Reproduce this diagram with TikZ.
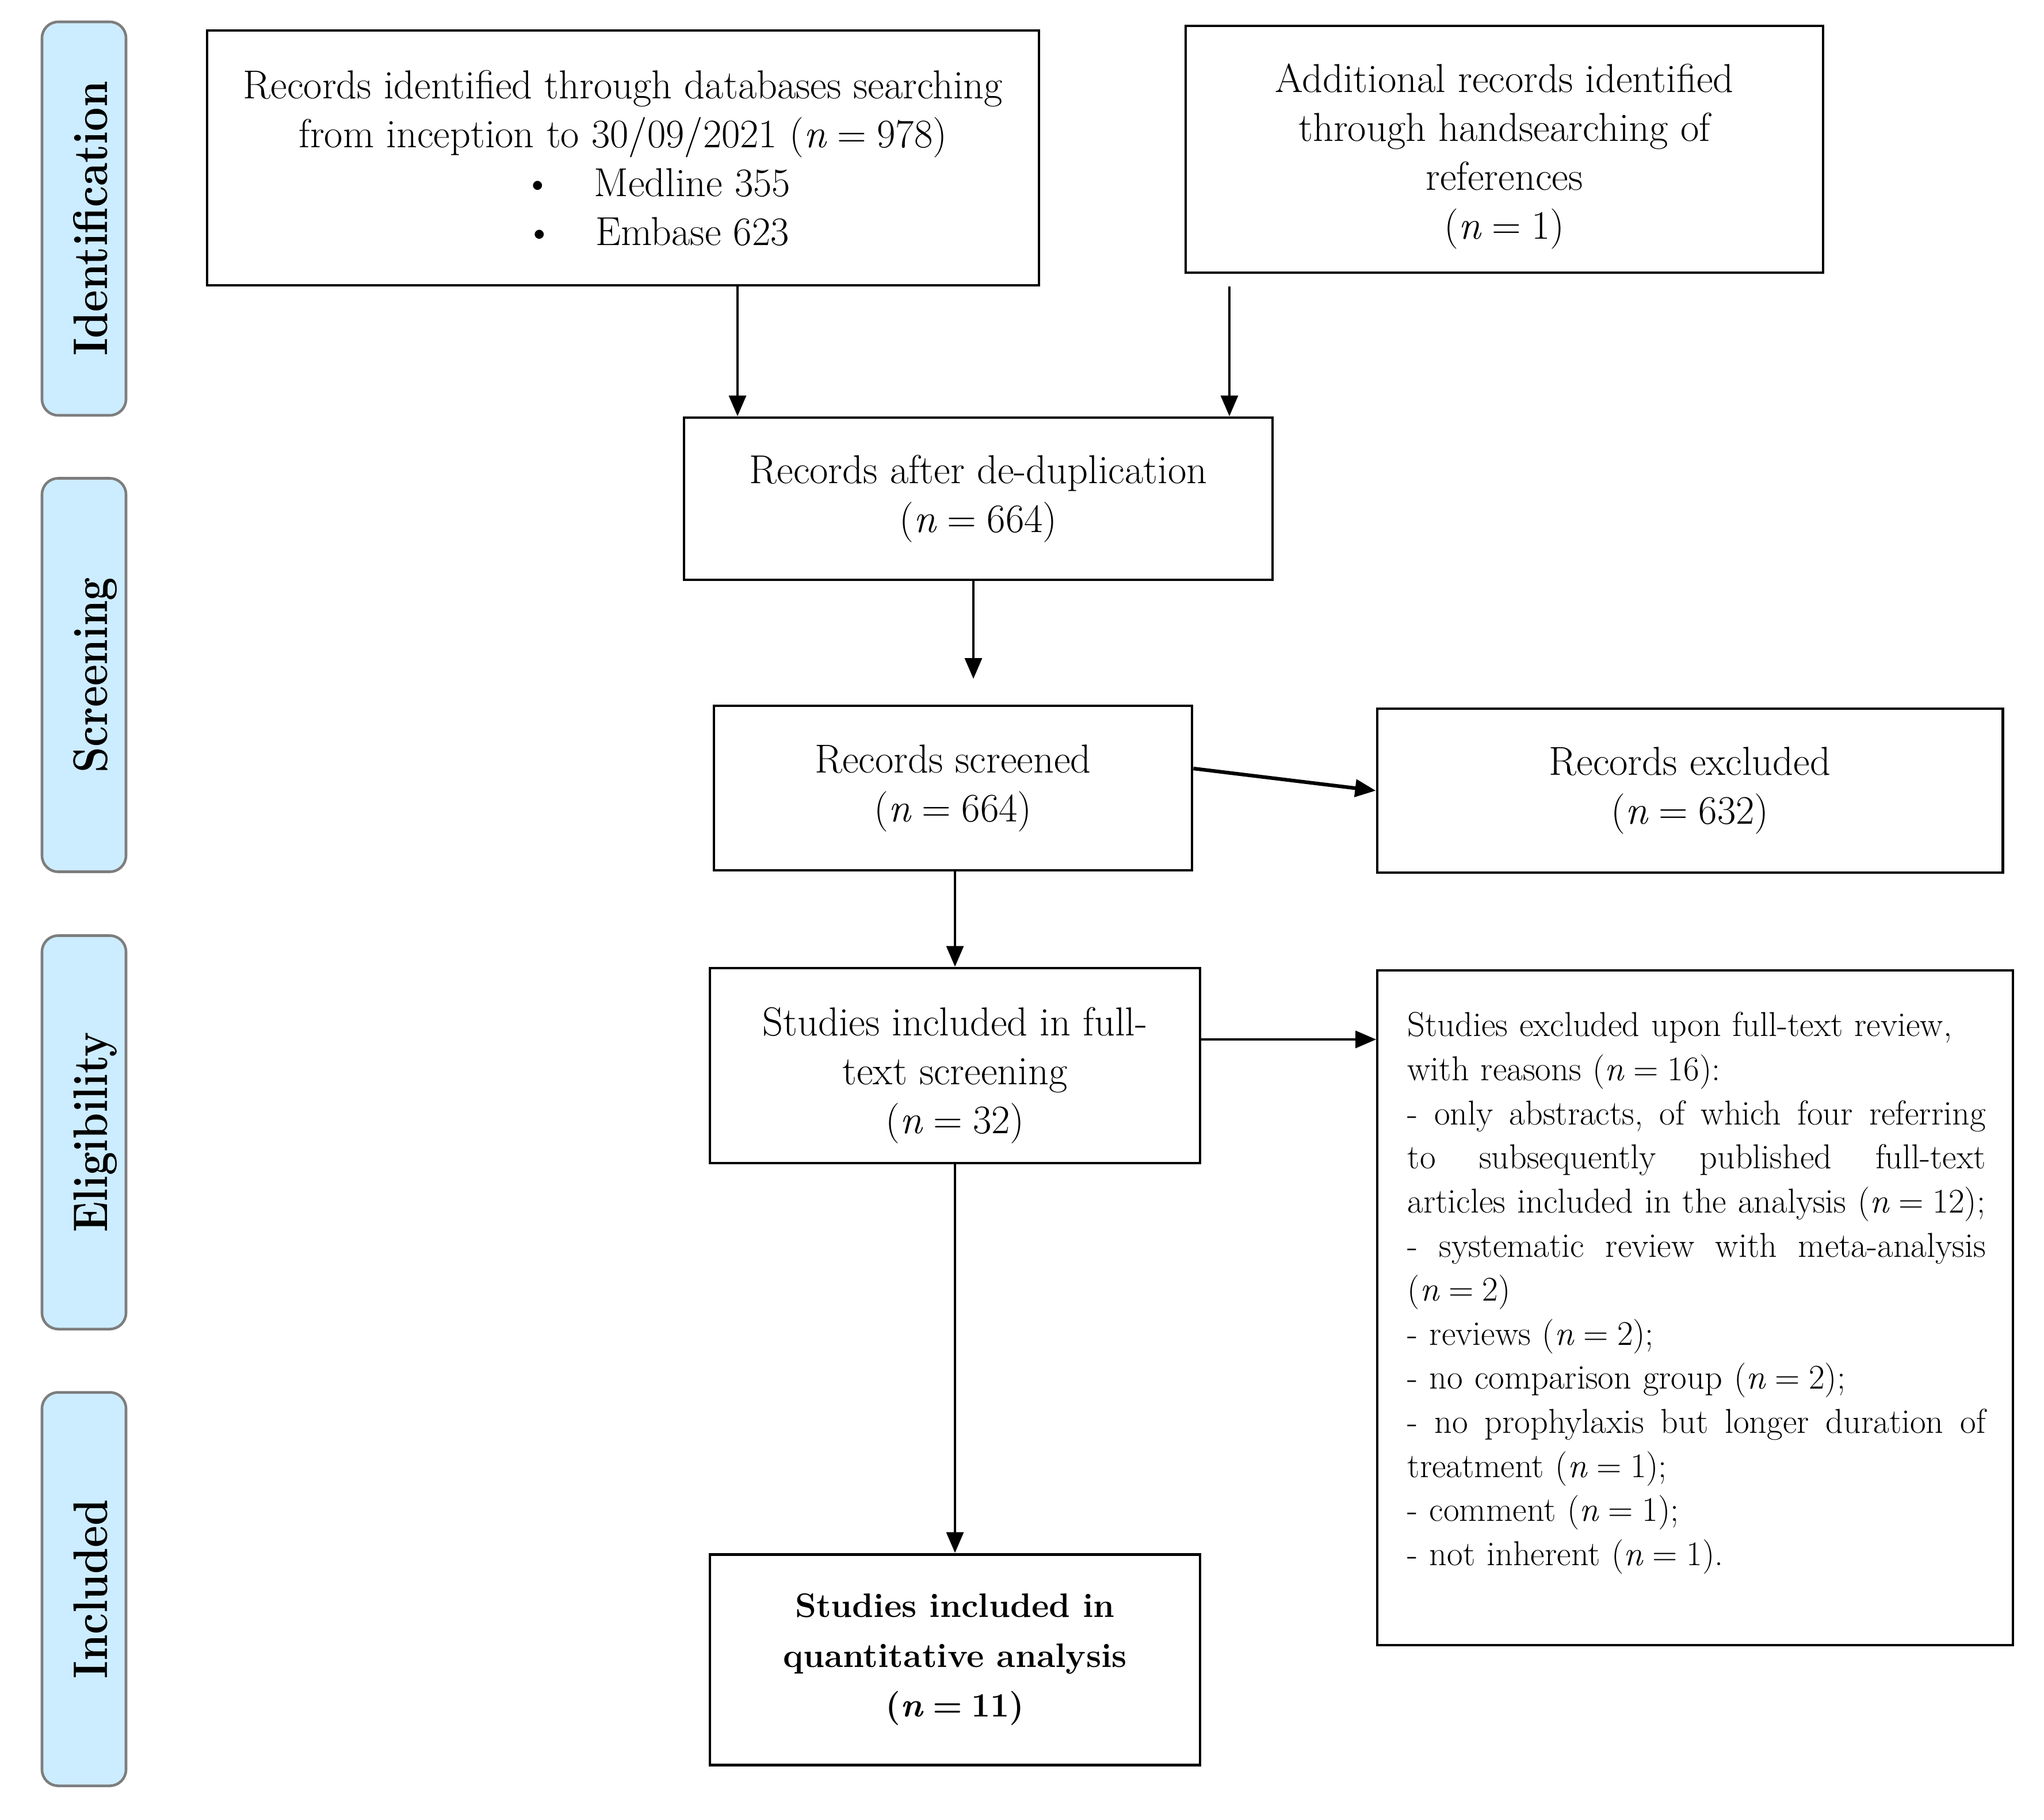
\documentclass[tikz,border=0pt]{standalone}
\usepackage{fontspec}
\usepackage{graphicx}
\usetikzlibrary{arrows.meta,calc}
\definecolor{phasefill}{RGB}{204,236,255}
\definecolor{phasedraw}{RGB}{125,125,125}
\newcommand\nnum[1]{(\textit{n}\hspace{0.26em}=\hspace{0.26em}#1)}
\newcommand\nnumb[1]{(\textbf{\textit{n}}\hspace{0.26em}=\hspace{0.26em}#1)}
\begin{document}
\begin{tikzpicture}[x=1cm,y=-1cm,
  box/.style={draw, line width=1.4pt, inner sep=0pt, align=center,
    font=\fontsize{20}{24.2}\selectfont},
  boxtext/.style={inner sep=0pt, align=center, font=\fontsize{20}{24.2}\selectfont},
  phase/.style={draw=phasedraw, fill=phasefill, line width=1.3pt,
    rounded corners=0.28cm, minimum width=1.46cm, minimum height=6.84cm, inner sep=0pt},
  phasetext/.style={rotate=90, anchor=base, inner sep=0pt,
    font=\fontsize{24}{24}\selectfont\bfseries},
  arr/.style={line width=1pt, -{Triangle[length=0.36cm,width=0.3cm]}},
  thickarr/.style={line width=1.8pt, -{Triangle[length=0.36cm,width=0.3cm]}},
]
\useasboundingbox (0,0) rectangle (35.53,31.63);

% phase labels
\node[phase] (p1) at (1.46,3.80) {};
\node[phasetext] (p1t) at (1.86,3.80) {\scalebox{0.87}[1]{Identification}};
\node[phase] (p2) at (1.46,11.735) {};
\node[phasetext] (p2t) at (1.86,11.735) {\scalebox{0.85}[1]{Screening}};
\node[phase] (p3) at (1.46,19.685) {};
\node[phasetext] (p3t) at (1.86,19.685) {\scalebox{0.86}[1]{Eligibility}};
\node[phase] (p4) at (1.46,27.625) {};
\node[phasetext] (p4t) at (1.86,27.625) {\scalebox{0.87}[1]{Included}};

% boxes
\node[box, minimum width=14.46cm, minimum height=4.43cm] (A) at (10.83,2.745)
  {Records identified through databases searching\\
   from inception to 30/09/2021 \nnum{978}\\
   \hspace*{1.18cm}\textbullet\hspace{0.72cm}Medline 355\\
   \hspace*{1.18cm}\textbullet\hspace{0.72cm}Embase 623};
\node[box, minimum width=11.08cm, minimum height=4.29cm] (B) at (26.15,2.595) {};
\node[boxtext] (Bt) at (26.15,2.72)
  {Additional records identified\\ through handsearching of\\ references\\ \nnum{1}};
\node[box, minimum width=10.23cm, minimum height=2.82cm] (C) at (17.005,8.67)
  {Records after de-duplication\\ \nnum{664}};
\node[box, minimum width=8.31cm, minimum height=2.86cm] (D) at (16.565,13.70)
  {Records screened\\ \nnum{664}};
\node[box, minimum width=10.87cm, minimum height=2.85cm] (E) at (29.375,13.745)
  {Records excluded\\ \nnum{632}};
\node[box, minimum width=8.52cm, minimum height=3.39cm] (F) at (16.60,18.525) {};
\node[boxtext] (Ft) at (16.60,18.70)
  {Studies included in full-\\ text screening\\ \nnum{32}};
\node[box, minimum width=11.05cm, minimum height=11.73cm, line width=1.1pt] (G) at (29.465,22.735) {};
\node[anchor=north west, inner sep=0pt, text width=10.3cm, align=left,
  font=\fontsize{17.1}{21.8}\selectfont] (Gt) at (24.46,17.59)
  {Studies excluded upon full-text review,\\
   with reasons \nnum{16}:\\
   \makebox[10.05cm][s]{-\hfill only\hfill abstracts,\hfill of\hfill which\hfill four\hfill referring}\\
   \makebox[10.05cm][s]{to\hfill subsequently\hfill published\hfill full-text}\\
   \mbox{articles included in the analysis \nnum{12};}\\
   \makebox[10.05cm][s]{-\hfill systematic\hfill review\hfill with\hfill meta-analysis}\\
   \nnum{2}\\
   - reviews \nnum{2};\\
   - no comparison group \nnum{2};\\
   \makebox[10.05cm][s]{-\hfill no\hfill prophylaxis\hfill but\hfill longer\hfill duration\hfill of}\\
   treatment \nnum{1};\\
   - comment \nnum{1};\\
   - not inherent \nnum{1}.};
\node[box, minimum width=8.52cm, minimum height=3.66cm, font=\fontsize{16.8}{24.6}\selectfont\bfseries] (H) at (16.60,28.85)
  {Studies included in\\ quantitative analysis\\ \nnumb{11}};

% connectors
\coordinate (ax) at (12.82,0);
\draw[arr] (A.south -| ax) -- (C.north -| ax);
\coordinate (bs) at (21.37,4.98);
\draw[arr] (bs) -- (C.north -| bs);
\coordinate (ce) at (16.92,11.80);
\draw[arr] (C.south -| ce) -- (ce);
\draw[thickarr] ([yshift=0.34cm]D.east) -- (E.west);
\draw[arr] (D.south -| F.north) -- (F.north);
\coordinate (fg) at ([yshift=0.455cm]F.east);
\draw[arr] (fg) -- (fg -| G.west);
\draw[arr] (F.south) -- (H.north);
\end{tikzpicture}
\end{document}
